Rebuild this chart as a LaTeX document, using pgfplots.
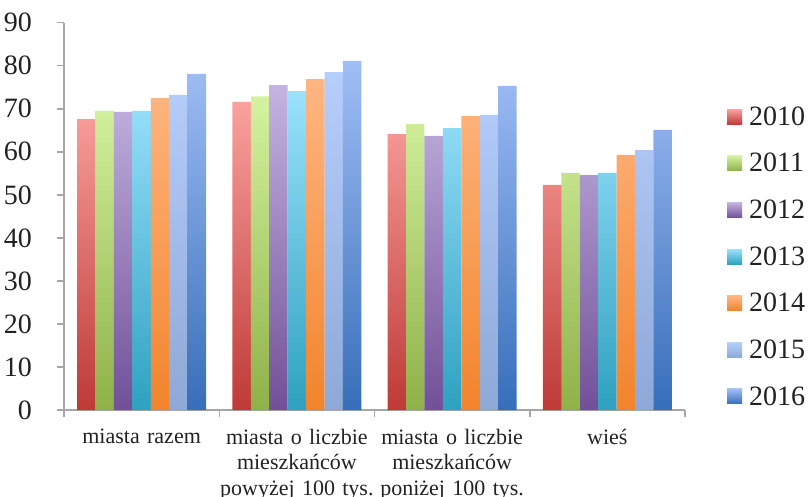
\documentclass[border=0pt]{standalone}
\usepackage{pgfplots}
\pgfplotsset{compat=1.18}
\usepackage{fontspec}
\setmainfont{Liberation Serif}
\definecolor{c0t}{RGB}{250,161,158}\definecolor{c0b}{RGB}{190,58,55}
\definecolor{c1t}{RGB}{212,242,160}\definecolor{c1b}{RGB}{143,177,72}
\definecolor{c2t}{RGB}{196,180,225}\definecolor{c2b}{RGB}{113,80,152}
\definecolor{c3t}{RGB}{154,225,252}\definecolor{c3b}{RGB}{47,161,192}
\definecolor{c4t}{RGB}{254,182,130}\definecolor{c4b}{RGB}{242,132,44}
\definecolor{c5t}{RGB}{182,206,252}\definecolor{c5b}{RGB}{142,168,215}
\definecolor{c6t}{RGB}{160,190,246}\definecolor{c6b}{RGB}{55,110,185}
\definecolor{axgray}{RGB}{166,166,166}
\definecolor{txt}{RGB}{34,34,34}
\begin{document}
\begin{tikzpicture}
\useasboundingbox (-64bp,-87bp) rectangle (745bp,410bp);
\begin{axis}[
  at={(0,0)}, anchor=south west,
  scale only axis, width=621bp, height=387.3bp,
  xmin=-0.5, xmax=3.5, ymin=0, ymax=90,
  ybar=0pt, bar width=18.43bp,
  axis x line*=bottom, axis y line*=left,
  axis line style={draw=axgray, line width=1.5bp, -},
  tick style={draw=axgray, line width=1.5bp},
  tick align=outside, major tick length=7bp,
  ytick={0,10,...,90},
  xtick={-0.5,0.5,1.5,2.5,3.5},
  xticklabels={miasta razem, miasta o liczbie\\mieszkańców\\powyżej 100 tys., miasta o liczbie\\mieszkańców\\poniżej 100 tys., wieś, {}},
  xticklabel style={align=center, text width=170bp, xshift=77.625bp, inner sep=0pt, yshift=-12bp,
    font=\fontsize{22bp}{25.5bp}\selectfont, text=txt},
  yticklabel style={font=\fontsize{28bp}{30bp}\selectfont, text=txt, inner sep=0pt, xshift=-25bp},
  /pgf/number format/assume math mode=true,
  legend image code/.code={\path[#1] (0bp,-7.5bp) rectangle (15bp,7.5bp);},
  legend style={draw=none, fill=none, at={(1.0676,0.396)}, anchor=west,
    font=\fontsize{28bp}{30bp}\selectfont, text=txt, row sep=22.5bp, inner sep=0pt,
    nodes={inner sep=2bp}, /tikz/every odd column/.append style={column sep=5bp}},
  legend cell align=left,
  clip=false,
]
\addplot[draw=none, top color=c0t, bottom color=c0b] coordinates {(0,67.6) (1,71.6) (2,64.1) (3,52.3)};
\addplot[draw=none, top color=c1t, bottom color=c1b] coordinates {(0,69.5) (1,72.9) (2,66.5) (3,55.1)};
\addplot[draw=none, top color=c2t, bottom color=c2b] coordinates {(0,69.25) (1,75.5) (2,63.7) (3,54.6)};
\addplot[draw=none, top color=c3t, bottom color=c3b] coordinates {(0,69.5) (1,74.1) (2,65.5) (3,55.1)};
\addplot[draw=none, top color=c4t, bottom color=c4b] coordinates {(0,72.5) (1,76.9) (2,68.3) (3,59.3)};
\addplot[draw=none, top color=c5t, bottom color=c5b] coordinates {(0,73.2) (1,78.5) (2,68.6) (3,60.4)};
\addplot[draw=none, top color=c6t, bottom color=c6b] coordinates {(0,78.1) (1,81.1) (2,75.3) (3,65.1)};
\legend{2010,2011,2012,2013,2014,2015,2016}
\end{axis}
\end{tikzpicture}
\end{document}
